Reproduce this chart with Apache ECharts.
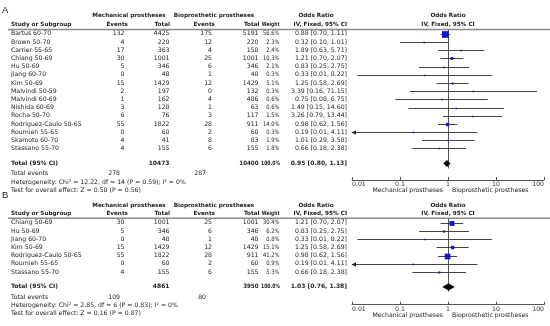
<!DOCTYPE html>
<html><head><meta charset="utf-8">
<script src="https://cdn.jsdelivr.net/npm/echarts@6/dist/echarts.min.js"></script>
<style>html,body{margin:0;padding:0;background:#fff}#c{width:550px;height:326px}</style>
</head><body><div id="c"></div>
<script>
// ---------- Panel A data ----------
const studiesA = ['Bartus 60-70','Brown 50-70','Carrier 55-65','Chiang 50-69','Hu 50-69','Jiang 60-70','Kim 50-69','Malvindi 50-59','Malvindi 60-69','Nishida 60-69','Rocha 50-70','Rodriguez-Caulo 50-65','Roumieh 55-65','Skamoto 60-70','Stassano 55-70'];
const mechEventsA = [132,4,17,30,5,0,15,2,1,3,6,55,0,4,4];
const mechTotalA  = [4425,220,363,1001,346,48,1429,197,162,128,76,1822,60,41,155];
const bioEventsA  = [175,12,4,25,6,1,12,0,4,1,3,28,2,8,6];
const bioTotalA   = [5191,220,158,1001,346,48,1429,132,486,63,117,911,60,83,155];
const weightA     = [56.6,2.3,2.4,10.3,2.1,0.3,5.1,0.3,0.6,0.6,1.5,14.0,0.3,1.9,1.8];
const orA         = [0.88,0.32,1.89,1.21,0.83,0.33,1.25,3.39,0.75,1.49,3.26,0.98,0.19,1.01,0.66];
const loA         = [0.70,0.10,0.63,0.70,0.25,0.013,0.58,0.16,0.08,0.15,0.79,0.62,0.009,0.29,0.18];
const hiA         = [1.11,1.01,5.71,2.07,2.75,8.22,2.69,71.15,6.75,14.60,13.44,1.56,4.11,3.58,2.38];
const totalCountsA = [10473,10400];
const totalEventsA = [278,287];
const totalOrA     = [0.95,0.80,1.13];
const hetA  = 'Heterogeneity: Chi\u00b2 = 12.22, df = 14 (P = 0.59); I\u00b2 = 0%';
const testA = 'Test for overall effect: Z = 0.58 (P = 0.56)';

// ---------- Panel B data ----------
const studiesB = ['Chiang 50-69','Hu 50-69','Jiang 60-70','Kim 50-69','Rodriguez-Caulo 50-65','Roumieh 55-65','Stassano 55-70'];
const mechEventsB = [30,5,0,15,55,0,4];
const mechTotalB  = [1001,346,48,1429,1822,60,155];
const bioEventsB  = [25,6,1,12,28,2,6];
const bioTotalB   = [1001,346,48,1429,911,60,155];
const weightB     = [30.4,6.2,0.8,15.1,41.2,0.9,5.3];
const orB         = [1.21,0.83,0.33,1.25,0.98,0.19,0.66];
const loB         = [0.70,0.25,0.013,0.58,0.62,0.009,0.18];
const hiB         = [2.07,2.75,8.22,2.69,1.56,4.11,2.38];
const totalCountsB = [4861,3950];
const totalEventsB = [109,80];
const totalOrB     = [1.03,0.76,1.38];
const hetB  = 'Heterogeneity: Chi\u00b2 = 2.85, df = 6 (P = 0.83); I\u00b2 = 0%';
const testB = 'Test for overall effect: Z = 0.16 (P = 0.87)';

const tickValues = [0.01,0.1,1,10,100];
const favourLeft = 'Mechanical prostheses';
const favourRight = 'Bioprosthetic prostheses';

// ---------- layout ----------
const XMIN = 0.01, XMAX = 100;
const PLOT_L = 352, PLOT_R = 544;
const ROW_H = 8.2;
const FONT = '"DejaVu Sans", Verdana, sans-serif';
const FS = 6.2, FSB = 5.7;
const TXT = '#222';
const SQ_K = 0.89;

const panels = [
  {label:'A', labelY:10, head1Y:16, head2Y:25, sepY:29.5, row0:33.7, axisY:180,
   studies:studiesA, me:mechEventsA, mt:mechTotalA, be:bioEventsA, bt:bioTotalA, w:weightA, or:orA, lo:loA, hi:hiA,
   tc:totalCountsA, te:totalEventsA, tor:totalOrA, het:hetA, test:testA},
  {label:'B', labelY:195, head1Y:205.7, head2Y:214, sepY:218.3, row0:222.7, axisY:304.7,
   studies:studiesB, me:mechEventsB, mt:mechTotalB, be:bioEventsB, bt:bioTotalB, w:weightB, or:orB, lo:loB, hi:hiB,
   tc:totalCountsB, te:totalEventsB, tor:totalOrB, het:hetB, test:testB}
];

function txt(x, y, s, align, bold, size, sx) {
  const el = {type:'text', x:x, y:y, silent:true, style:{
    text:String(s), fill:TXT, fontFamily:FONT, fontSize:size || (bold?FSB:FS), fontWeight:bold?'bold':'normal',
    textAlign:align||'left', align:align||'left', textVerticalAlign:'middle', verticalAlign:'middle'}};
  if (sx) el.scaleX = sx;
  return el;
}
const fmtCI = (o,l,h) => o.toFixed(2)+' ['+l.toFixed(2)+', '+h.toFixed(2)+']';

const grids=[], xAxes=[], yAxes=[], series=[], graphics=[];
panels.forEach((p, gi) => {
  const n = p.studies.length;
  const totRow = n - 1 + 1.83;
  const rowY = r => p.row0 + ROW_H * r;
  const yMin = (p.sepY - p.row0) / ROW_H, yMax = (p.axisY - p.row0) / ROW_H;
  grids.push({left:PLOT_L, width:PLOT_R-PLOT_L, top:p.sepY, height:p.axisY-p.sepY, containLabel:false});
  xAxes.push({type:'log', logBase:10, min:XMIN, max:XMAX, gridIndex:gi, splitNumber:4, position:'bottom',
    axisLine:{show:true, onZero:false, lineStyle:{color:'#555', width:1}},
    axisTick:{show:true, inside:true, length:3, lineStyle:{color:'#555'}},
    minorTick:{show:false}, splitLine:{show:false},
    axisLabel:{show:true, fontSize:FS, fontFamily:FONT, color:'#333', margin:1.5, alignMinLabel:'left', alignMaxLabel:'right',
      formatter: v => String(+(+v).toPrecision(3))}});
  yAxes.push({type:'value', gridIndex:gi, inverse:true, min:yMin, max:yMax, show:false});

  // reference line at OR = 1
  series.push({type:'custom', xAxisIndex:gi, yAxisIndex:gi, clip:false, silent:true, z:1,
    data:[[1, yMin, totRow + 0.6]], encode:{x:0, y:1},
    renderItem:(params, api) => {
      const a = api.coord([api.value(0), api.value(1)]), b = api.coord([api.value(0), api.value(2)]);
      const x = Math.round(a[0]) + 0.5;
      return {type:'line', shape:{x1:x, y1:a[1], x2:x, y2:b[1]}, style:{stroke:'#555', lineWidth:1}};
    }});
  // study CIs and squares
  series.push({type:'custom', xAxisIndex:gi, yAxisIndex:gi, clip:false, silent:true, z:3,
    data:p.or.map((v,i) => [v, p.lo[i], p.hi[i], p.w[i], i]), encode:{x:0, y:4},
    renderItem:(params, api) => {
      const o=api.value(0), l=api.value(1), h=api.value(2), wt=api.value(3), r=api.value(4);
      const pO = api.coord([o, r]);
      const pL = api.coord([Math.max(l, XMIN), r]);
      const pH = api.coord([Math.min(h, XMAX), r]);
      const y = Math.round(pO[1]) + 0.5;
      const s = Math.max(1.6, SQ_K * Math.sqrt(wt));
      const ch = [{type:'line', shape:{x1:pL[0], y1:y, x2:pH[0], y2:y}, style:{stroke:'#444', lineWidth:1}}];
      if (l < XMIN) ch.push({type:'polygon', shape:{points:[[pL[0]-0.5,y],[pL[0]+4,y-2.2],[pL[0]+4,y+2.2]]}, style:{fill:'#222'}});
      if (h > XMAX) ch.push({type:'polygon', shape:{points:[[pH[0]+0.5,y],[pH[0]-4,y-2.2],[pH[0]-4,y+2.2]]}, style:{fill:'#222'}});
      ch.push({type:'rect', shape:{x:pO[0]-s/2, y:y-s/2, width:s, height:s}, style:{fill:'#1515cf'}});
      return {type:'group', children:ch};
    }});
  // pooled diamond
  series.push({type:'custom', xAxisIndex:gi, yAxisIndex:gi, clip:false, silent:true, z:4,
    data:[[p.tor[0], p.tor[1], p.tor[2], totRow]], encode:{x:0, y:3},
    renderItem:(params, api) => {
      const r = api.value(3);
      const c = api.coord([api.value(0), r]), l = api.coord([api.value(1), r]), h = api.coord([api.value(2), r]);
      const hh = 3.6;
      return {type:'polygon', shape:{points:[[l[0],c[1]],[c[0],c[1]-hh],[h[0],c[1]],[c[0],c[1]+hh]]}, style:{fill:'#000'}};
    }});

  // ---------- table text ----------
  graphics.push({type:'text', x:2, y:p.labelY, silent:true, style:{text:p.label, fill:'#111', fontFamily:'"Liberation Sans", Arial, sans-serif', fontSize:9.5, textAlign:'left', align:'left', textVerticalAlign:'middle', verticalAlign:'middle'}});
  graphics.push(txt(129, p.head1Y, 'Mechanical prostheses', 'center', true));
  graphics.push(txt(214, p.head1Y, 'Bioprosthetic prostheses', 'center', true));
  graphics.push(txt(316, p.head1Y, 'Odds Ratio', 'center', true));
  graphics.push(txt((PLOT_L+PLOT_R)/2, p.head1Y, 'Odds Ratio', 'center', true));
  graphics.push(txt(11, p.head2Y, 'Study or Subgroup', 'left', true));
  graphics.push(txt(128, p.head2Y, 'Events', 'right', true));
  graphics.push(txt(170, p.head2Y, 'Total', 'right', true));
  graphics.push(txt(215, p.head2Y, 'Events', 'right', true));
  graphics.push(txt(259.5, p.head2Y, 'Total', 'right', true));
  graphics.push(txt(279.5, p.head2Y, 'Weight', 'right', true, null, 0.78));
  graphics.push(txt(347, p.head2Y, 'IV, Fixed, 95% CI', 'right', true));
  graphics.push(txt((PLOT_L+PLOT_R)/2, p.head2Y, 'IV, Fixed, 95% CI', 'center', true));
  graphics.push({type:'line', silent:true, shape:{x1:8, y1:p.sepY, x2:550, y2:p.sepY}, style:{stroke:'#8a8a8a', lineWidth:1.4}});

  p.studies.forEach((s, i) => {
    const y = rowY(i);
    graphics.push(txt(11, y, s, 'left'));
    graphics.push(txt(124.5, y, p.me[i], 'right'));
    graphics.push(txt(169.5, y, p.mt[i], 'right'));
    graphics.push(txt(212, y, p.be[i], 'right'));
    graphics.push(txt(258.5, y, p.bt[i], 'right'));
    graphics.push(txt(279.5, y, p.w[i].toFixed(1)+'%', 'right', false, null, 0.84));
    graphics.push(txt(347, y, fmtCI(p.or[i], p.lo[i], p.hi[i]), 'right'));
  });
  const yT = rowY(totRow);
  graphics.push(txt(11, yT, 'Total (95% CI)', 'left', true, FS-0.2));
  graphics.push(txt(169.5, yT, p.tc[0], 'right', true, FS-0.2));
  graphics.push(txt(258.5, yT, p.tc[1], 'right', true, FS-0.2, 0.92));
  graphics.push(txt(280, yT, '100.0%', 'right', true, FS-0.2, 0.76));
  graphics.push(txt(347, yT, fmtCI(p.tor[0], p.tor[1], p.tor[2]), 'right', true, FS-0.2));
  const yE = rowY(totRow + 1.256);
  graphics.push(txt(11, yE, 'Total events', 'left'));
  graphics.push(txt(120, yE, p.te[0], 'right'));
  graphics.push(txt(206, yE, p.te[1], 'right'));
  graphics.push(txt(11, rowY(totRow + 2.27), p.het, 'left'));
  graphics.push(txt(11, rowY(totRow + 3.28), p.test, 'left'));

  // favours labels under axis
  const mid = (PLOT_L+PLOT_R)/2;
  graphics.push(txt(mid-5, p.axisY+10.4, favourLeft, 'right'));
  graphics.push(txt(mid+4, p.axisY+10.4, favourRight, 'left'));
});

const chart = echarts.init(document.getElementById('c'), null, {renderer:'canvas'});
chart.setOption({
  animation:false,
  backgroundColor:'#fff',
  grid:grids, xAxis:xAxes, yAxis:yAxes, series:series,
  graphic:{elements:graphics}
});
</script></body></html>
